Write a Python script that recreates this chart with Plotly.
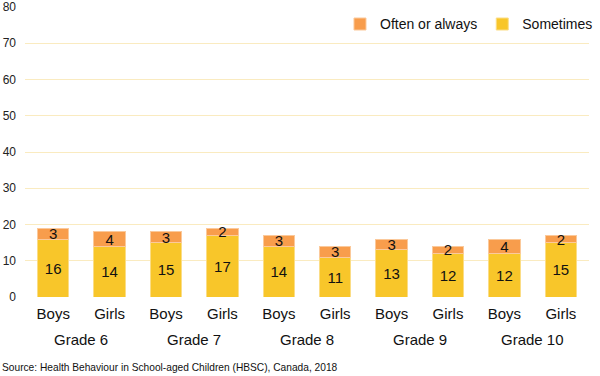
import plotly.graph_objects as go

grades = ["Grade 6", "Grade 7", "Grade 8", "Grade 9", "Grade 10"]
sexes = ["Boys", "Girls"]
sometimes = [16, 14, 15, 17, 14, 11, 13, 12, 12, 15]
often = [3, 4, 3, 2, 3, 3, 3, 2, 4, 2]
y_ticks = [0, 10, 20, 30, 40, 50, 60, 70, 80]

x_labels = [s for g in grades for s in sexes]
x_pos = list(range(len(x_labels)))

FONT = "Liberation Sans, Arial, sans-serif"
fig = go.Figure()
fig.add_trace(go.Bar(
    x=x_pos, y=sometimes, name="Sometimes",
    marker=dict(color="#F8C62A", line=dict(color="#FBDD86", width=1)),
    text=[str(v) for v in sometimes], textposition="inside", insidetextanchor="middle",
    textangle=0, constraintext="none",
    textfont=dict(family=FONT, size=15, color="#111"), width=0.56,
    legendrank=2,
))
fig.add_trace(go.Bar(
    x=x_pos, y=often, name="Often or always",
    marker=dict(color="#F89D4C", line=dict(color="#FBC99B", width=1)),
    text=[str(v) for v in often], textposition="inside", insidetextanchor="middle",
    textangle=0, constraintext="none",
    textfont=dict(family=FONT, size=15, color="#111"), width=0.56,
    legendrank=1,
))

annotations = []
for i, g in enumerate(grades):
    annotations.append(dict(
        x=2 * i + 0.5, y=-0.148, xref="x", yref="paper", text=g, showarrow=False,
        font=dict(family=FONT, size=15, color="#111"), xanchor="center", yanchor="middle"))
annotations.append(dict(
    x=0, y=0, xref="paper", yref="paper", text="Source: Health Behaviour in School-aged Children (HBSC), Canada, 2018",
    showarrow=False, font=dict(family=FONT, size=10.2, color="#111"), xanchor="left", yanchor="middle",
    xshift=-25, yshift=-70))

fig.update_layout(
    width=600, height=376,
    margin=dict(l=25, r=2, t=7, b=79),
    barmode="stack",
    bargap=0.44,
    plot_bgcolor="white", paper_bgcolor="white",
    font=dict(family=FONT, color="#111"),
    uniformtext=dict(minsize=13, mode="show"),
    legend=dict(orientation="h", x=0.5585, xanchor="left", y=0.94, yanchor="middle",
                font=dict(family=FONT, size=14, color="#111"), traceorder="normal",
                bgcolor="rgba(0,0,0,0)"),
    xaxis=dict(tickmode="array", tickvals=x_pos, ticktext=x_labels, range=[-0.5, 9.5],
               showgrid=False, zeroline=False, showline=False, ticks="", automargin=False,
               ticklabelstandoff=6,
               tickfont=dict(family=FONT, size=15, color="#111")),
    yaxis=dict(range=[0, 80], tickvals=y_ticks, showgrid=True, gridcolor="#FAEBC0", gridwidth=1,
               zeroline=False, showline=False, ticks="", automargin=False,
               ticklabelstandoff=8,
               tickfont=dict(family=FONT, size=12, color="#222")),
    annotations=annotations,
)
fig.write_html(
    "out.html",
    config={"displayModeBar": False},
    post_script="document.body.style.margin='0';document.body.style.overflow='hidden';",
)
